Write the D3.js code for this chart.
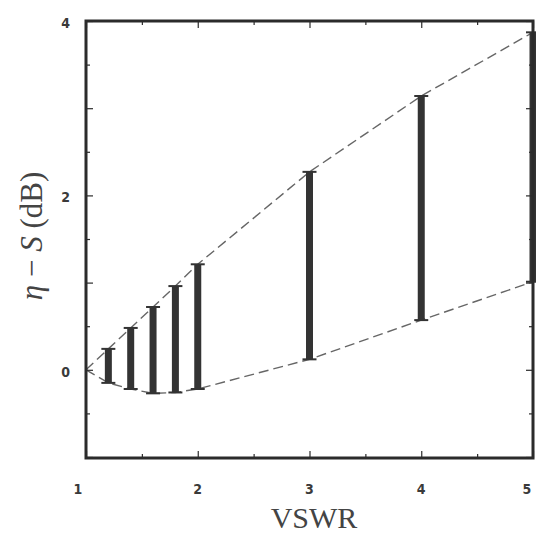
<!DOCTYPE html>
<html>
<head>
<meta charset="utf-8">
<script src="https://cdn.jsdelivr.net/npm/d3@7"></script>
<style>
  html, body { margin: 0; padding: 0; background: #fff; }
</style>
</head>
<body>
<script>
const svg_width = 536;
const svg_height = 535;
const left_x = 86;
const right_x = 533;
const top_y = 21;
const bottom_y = 458;

// data
const vswr = [1.2, 1.4, 1.6, 1.8, 2.0, 3, 4, 5];
const upper = [0.24, 0.48, 0.72, 0.96, 1.21, 2.27, 3.14, 3.87];
const lower = [-0.15, -0.22, -0.27, -0.26, -0.22, 0.12, 0.57, 1.01];
const start_point = [1, 0];
const x_ticks = [1, 2, 3, 4, 5];
const y_ticks = [0, 2, 4];

const x = d3.scaleLinear().domain([1, 5]).range([left_x, right_x]);
const y = d3.scaleLinear().domain([-1, 4]).range([bottom_y - 1, top_y]);

const svg = d3.select('body')
    .append('svg')
    .attr('width', svg_width)
    .attr('height', svg_height)
    .style('display', 'block');

const ink = '#2b2b2b';

// dashed envelope lines
const line = d3.line().x(d => x(d[0])).y(d => y(d[1]));
const upper_pts = [start_point].concat(vswr.map((v, i) => [v, upper[i]]));
const lower_pts = [start_point].concat(vswr.map((v, i) => [v, lower[i]]));

[upper_pts, lower_pts].forEach(pts => {
    svg.append('path')
        .attr('d', line(pts))
        .attr('fill', 'none')
        .attr('stroke', '#666')
        .attr('stroke-width', 1.4)
        .attr('stroke-dasharray', '10,5');
});

// vertical range bars with end caps
const bars = svg.append('g').selectAll('g')
    .data(vswr.map((v, i) => ({v: v, hi: upper[i], lo: lower[i]})))
    .join('g');

bars.append('rect')
    .attr('x', d => x(d.v) - 3.5)
    .attr('y', d => y(d.hi))
    .attr('width', 7)
    .attr('height', d => y(d.lo) - y(d.hi))
    .attr('fill', '#333');

bars.selectAll('line.cap')
    .data(d => [{v: d.v, val: d.hi}, {v: d.v, val: d.lo}])
    .join('line')
    .attr('class', 'cap')
    .attr('x1', d => x(d.v) - 7)
    .attr('x2', d => x(d.v) + 7)
    .attr('y1', d => y(d.val))
    .attr('y2', d => y(d.val))
    .attr('stroke', '#333')
    .attr('stroke-width', 2);

// axes: ticks inward on all four sides
const x_major = d3.range(1, 5.01, 1);
const x_minor = d3.range(1.5, 5, 1);
const y_major = d3.range(-1, 4.01, 1);
const y_minor = d3.range(-0.5, 4, 1);

const axis_bottom = svg.append('g')
    .attr('transform', `translate(0,${bottom_y})`)
    .call(d3.axisTop(x).tickValues(x_major.concat(x_minor)).tickSize(0).tickFormat(''));
const axis_top = svg.append('g')
    .attr('transform', `translate(0,${top_y})`)
    .call(d3.axisBottom(x).tickValues(x_major.concat(x_minor)).tickSize(0).tickFormat(''));
const axis_left = svg.append('g')
    .attr('transform', `translate(${left_x},0)`)
    .call(d3.axisRight(y).tickValues(y_major.concat(y_minor)).tickSize(0).tickFormat(''));
const axis_right = svg.append('g')
    .attr('transform', `translate(${right_x},0)`)
    .call(d3.axisLeft(y).tickValues(y_major.concat(y_minor)).tickSize(0).tickFormat(''));

[axis_bottom, axis_top, axis_left, axis_right].forEach(a => a.select('.domain').remove());

const is_major = d => Math.abs(d - Math.round(d)) < 1e-6;
axis_bottom.selectAll('.tick line').attr('y2', d => is_major(d) ? -7 : -4).attr('stroke', ink).attr('stroke-width', 1.2);
axis_top.selectAll('.tick line').attr('y2', d => is_major(d) ? 7 : 4).attr('stroke', ink).attr('stroke-width', 1.2);
axis_left.selectAll('.tick line').attr('x2', d => is_major(d) ? 7 : 4).attr('stroke', ink).attr('stroke-width', 1.2);
axis_right.selectAll('.tick line').attr('x2', d => is_major(d) ? -7 : -4).attr('stroke', ink).attr('stroke-width', 1.2);

// frame
svg.append('rect')
    .attr('x', left_x)
    .attr('y', top_y)
    .attr('width', right_x - left_x)
    .attr('height', bottom_y - top_y)
    .attr('fill', 'none')
    .attr('stroke', ink)
    .attr('stroke-width', 3);

// tick labels
svg.append('g').selectAll('text')
    .data(x_ticks)
    .join('text')
    .attr('x', d => x(d) - (d === 1 ? 8 : d === 5 ? 6 : 0))
    .attr('y', 494)
    .attr('text-anchor', 'middle')
    .style('font-family', '"DejaVu Sans Condensed", sans-serif')
    .style('font-size', '14px')
    .style('font-weight', 'bold')
    .attr('fill', '#3a3a3a')
    .text(d => d);

svg.append('g').selectAll('text')
    .data(y_ticks)
    .join('text')
    .attr('x', 70)
    .attr('y', d => y(d) + 7)
    .attr('text-anchor', 'end')
    .style('font-family', '"DejaVu Sans Condensed", sans-serif')
    .style('font-size', '14px')
    .style('font-weight', 'bold')
    .attr('fill', '#3a3a3a')
    .text(d => d);

// axis titles
svg.append('text')
    .attr('x', 314)
    .attr('y', 528)
    .attr('text-anchor', 'middle')
    .style('font-family', '"Liberation Serif", "DejaVu Serif", serif')
    .style('font-size', '30px')
    .attr('fill', '#444')
    .text('VSWR');

const y_title = svg.append('text')
    .attr('transform', 'translate(42,236) rotate(-90)')
    .attr('text-anchor', 'middle')
    .style('font-family', '"Liberation Serif", "DejaVu Serif", serif')
    .style('font-size', '31px')
    .attr('fill', '#444');
y_title.append('tspan').style('font-style', 'italic').text('η');
y_title.append('tspan').text(' − ');
y_title.append('tspan').style('font-style', 'italic').text('S');
y_title.append('tspan').text(' (dB)');
</script>
</body>
</html>
